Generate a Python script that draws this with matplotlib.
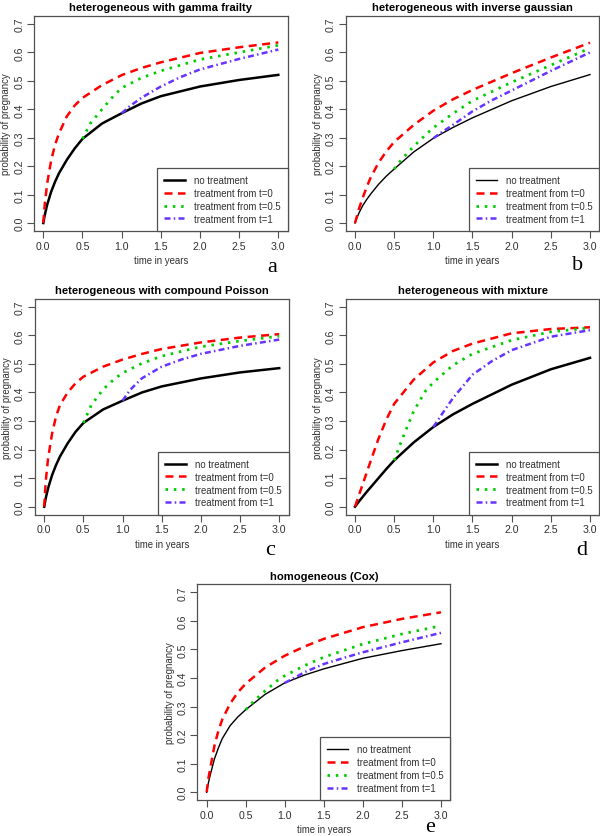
import matplotlib
matplotlib.use("Agg")
import matplotlib.pyplot as plt
from matplotlib.lines import Line2D

plt.rcParams['font.family'] = ['Liberation Sans', 'DejaVu Sans']

# time grids (years)
T_ALL = [0, 0.02, 0.05, 0.1, 0.15, 0.2, 0.3, 0.4, 0.5, 0.75, 1.0, 1.25, 1.5, 2.0, 2.5, 3.0]
T_HALF = [0.5, 0.6, 0.75, 0.9, 1.0, 1.25, 1.5, 2.0, 2.5, 3.0]
T_ONE = [1.0, 1.1, 1.25, 1.5, 1.75, 2.0, 2.5, 3.0]

TITLES = ["heterogeneous with gamma frailty",
          "heterogeneous with inverse gaussian",
          "heterogeneous with compound Poisson",
          "heterogeneous with mixture",
          "homogeneous (Cox)"]
LETTERS = ["a", "b", "c", "d", "e"]
LABELS = ["no treatment", "treatment from t=0",
          "treatment from t=0.5", "treatment from t=1"]

# a: gamma frailty
a_none = [0, 0.03, 0.065, 0.11, 0.145, 0.175, 0.222, 0.262, 0.296, 0.35, 0.386, 0.42, 0.446, 0.48, 0.503, 0.521]
a_t0 = [0, 0.07, 0.14, 0.22, 0.275, 0.315, 0.375, 0.413, 0.44, 0.485, 0.52, 0.545, 0.565, 0.598, 0.618, 0.635]
a_t05 = [0.296, 0.35, 0.40, 0.448, 0.475, 0.51, 0.535, 0.575, 0.60, 0.625]
a_t1 = [0.386, 0.41, 0.44, 0.48, 0.513, 0.54, 0.577, 0.61]

# b: inverse gaussian
b_none = [0, 0.015, 0.035, 0.062, 0.083, 0.102, 0.136, 0.165, 0.19, 0.25, 0.298, 0.336, 0.37, 0.43, 0.48, 0.522]
b_t0 = [0, 0.02, 0.05, 0.09, 0.127, 0.16, 0.212, 0.252, 0.285, 0.345, 0.395, 0.435, 0.468, 0.527, 0.582, 0.634]
b_t05 = [0.19, 0.225, 0.27, 0.31, 0.335, 0.385, 0.43, 0.495, 0.555, 0.615]
b_t1 = [0.298, 0.318, 0.345, 0.393, 0.432, 0.466, 0.535, 0.60]

# c: compound Poisson
c_none = [0, 0.03, 0.065, 0.11, 0.145, 0.175, 0.222, 0.262, 0.293, 0.34, 0.371, 0.4, 0.421, 0.449, 0.47, 0.485]
c_t0 = [0, 0.09, 0.17, 0.255, 0.315, 0.355, 0.40, 0.432, 0.455, 0.49, 0.515, 0.535, 0.552, 0.575, 0.592, 0.604]
c_t05 = [0.293, 0.355, 0.41, 0.448, 0.468, 0.502, 0.527, 0.56, 0.58, 0.597]
c_t1 = [0.371, 0.41, 0.45, 0.49, 0.515, 0.535, 0.563, 0.585]

# d: mixture
d_none = [0, 0.007, 0.018, 0.035, 0.052, 0.068, 0.10, 0.132, 0.162, 0.225, 0.279, 0.323, 0.36, 0.427, 0.481, 0.521]
d_t0 = [0, 0.016, 0.04, 0.08, 0.12, 0.16, 0.238, 0.305, 0.36, 0.445, 0.505, 0.545, 0.571, 0.607, 0.622, 0.628]
d_t05 = [0.162, 0.235, 0.335, 0.405, 0.435, 0.495, 0.535, 0.583, 0.612, 0.626]
d_t1 = [0.279, 0.32, 0.38, 0.462, 0.51, 0.548, 0.595, 0.618]

# e: Cox
e_none = [0, 0.03, 0.065, 0.117, 0.155, 0.188, 0.233, 0.264, 0.289, 0.343, 0.383, 0.41, 0.432, 0.469, 0.496, 0.52]
e_t0 = [0, 0.045, 0.09, 0.163, 0.215, 0.255, 0.31, 0.35, 0.38, 0.437, 0.478, 0.51, 0.537, 0.578, 0.607, 0.63]
e_t05 = [0.289, 0.318, 0.355, 0.39, 0.408, 0.443, 0.473, 0.519, 0.554, 0.583]
e_t1 = [0.383, 0.397, 0.42, 0.449, 0.47, 0.49, 0.525, 0.558]

PANELS = [(a_none, a_t0, a_t05, a_t1),
          (b_none, b_t0, b_t05, b_t1),
          (c_none, c_t0, c_t05, c_t1),
          (d_none, d_t0, d_t05, d_t1),
          (e_none, e_t0, e_t05, e_t1)]
BLACK_LW = [1.8, 1.0, 1.8, 1.8, 1.0]

# axes rectangles in figure fractions
POS = [[0.0565, 0.7228, 0.423, 0.2569],
       [0.576, 0.7228, 0.423, 0.2569],
       [0.058, 0.3839, 0.423, 0.258],
       [0.576, 0.3839, 0.423, 0.258],
       [0.3288, 0.0427, 0.4218, 0.258]]
LETTER_XY = [(272, 272), (578, 270), (270, 555), (582, 555), (430, 832)]

RED = "#FF0000"
GREEN = "#00CC00"
BLUE = "#6633FF"
FRAME = "#505050"
TXT = "#303030"

fig = plt.figure(figsize=(6, 8.37), dpi=100)

for i, (none, t0, t05, t1) in enumerate(PANELS):
    ax = fig.add_axes(POS[i])
    ax.plot(T_ALL, none, color="black", lw=BLACK_LW[i], solid_joinstyle="round")
    ax.plot(T_ALL, t0, color=RED, lw=1.8, dashes=(3.2, 2.2))
    ax.plot(T_HALF, t05, color=GREEN, lw=2.0, dashes=(0.9, 2.1))
    ax.plot(T_ONE, t1, color=BLUE, lw=1.8, dashes=(2.4, 1.3, 0.6, 1.3))

    ax.set_xlim(-0.12, 3.12)
    ax.set_ylim(-0.028, 0.728)
    ax.set_xticks([0, 0.5, 1.0, 1.5, 2.0, 2.5, 3.0])
    ax.set_yticks([0, 0.1, 0.2, 0.3, 0.4, 0.5, 0.6, 0.7])
    ax.set_xticklabels(["0.0", "0.5", "1.0", "1.5", "2.0", "2.5", "3.0"])
    ax.set_yticklabels(["0.0", "0.1", "0.2", "0.3", "0.4", "0.5", "0.6", "0.7"],
                       rotation=90, va="center")
    ax.tick_params(direction="out", length=5, width=0.8, color=FRAME,
                   labelsize=7.6, labelcolor=TXT, pad=2)
    for sp in ax.spines.values():
        sp.set_color(FRAME)
        sp.set_linewidth(0.9)

    ax.set_title(TITLES[i], fontsize=8.1, fontweight="bold", pad=4, color="black")
    ax.set_xlabel("time in years", fontsize=6.9, color=TXT, labelpad=3)
    ax.set_ylabel("probability of pregnancy", fontsize=6.9, color=TXT, labelpad=2)

    handles = [Line2D([], [], color="black", lw=BLACK_LW[i]),
               Line2D([], [], color=RED, lw=1.8, dashes=(3.2, 2.2)),
               Line2D([], [], color=GREEN, lw=2.0, dashes=(0.9, 2.1)),
               Line2D([], [], color=BLUE, lw=1.8, dashes=(2.4, 1.3, 0.6, 1.3))]
    leg = ax.legend(handles, LABELS, loc="lower right", fontsize=6.9,
                    borderaxespad=0, fancybox=False, framealpha=1,
                    edgecolor=FRAME, handlelength=2.2, handletextpad=0.9,
                    labelspacing=0.3, borderpad=0.75)
    leg.get_frame().set_linewidth(0.9)
    for t in leg.get_texts():
        t.set_color(TXT)

    lx, ly = LETTER_XY[i]
    fig.text(lx / 600, 1 - ly / 837, LETTERS[i], fontsize=16,
             family=["Liberation Serif", "DejaVu Serif"], ha="center",
             va="baseline", color="black")

fig.savefig("out.png", dpi=100)
